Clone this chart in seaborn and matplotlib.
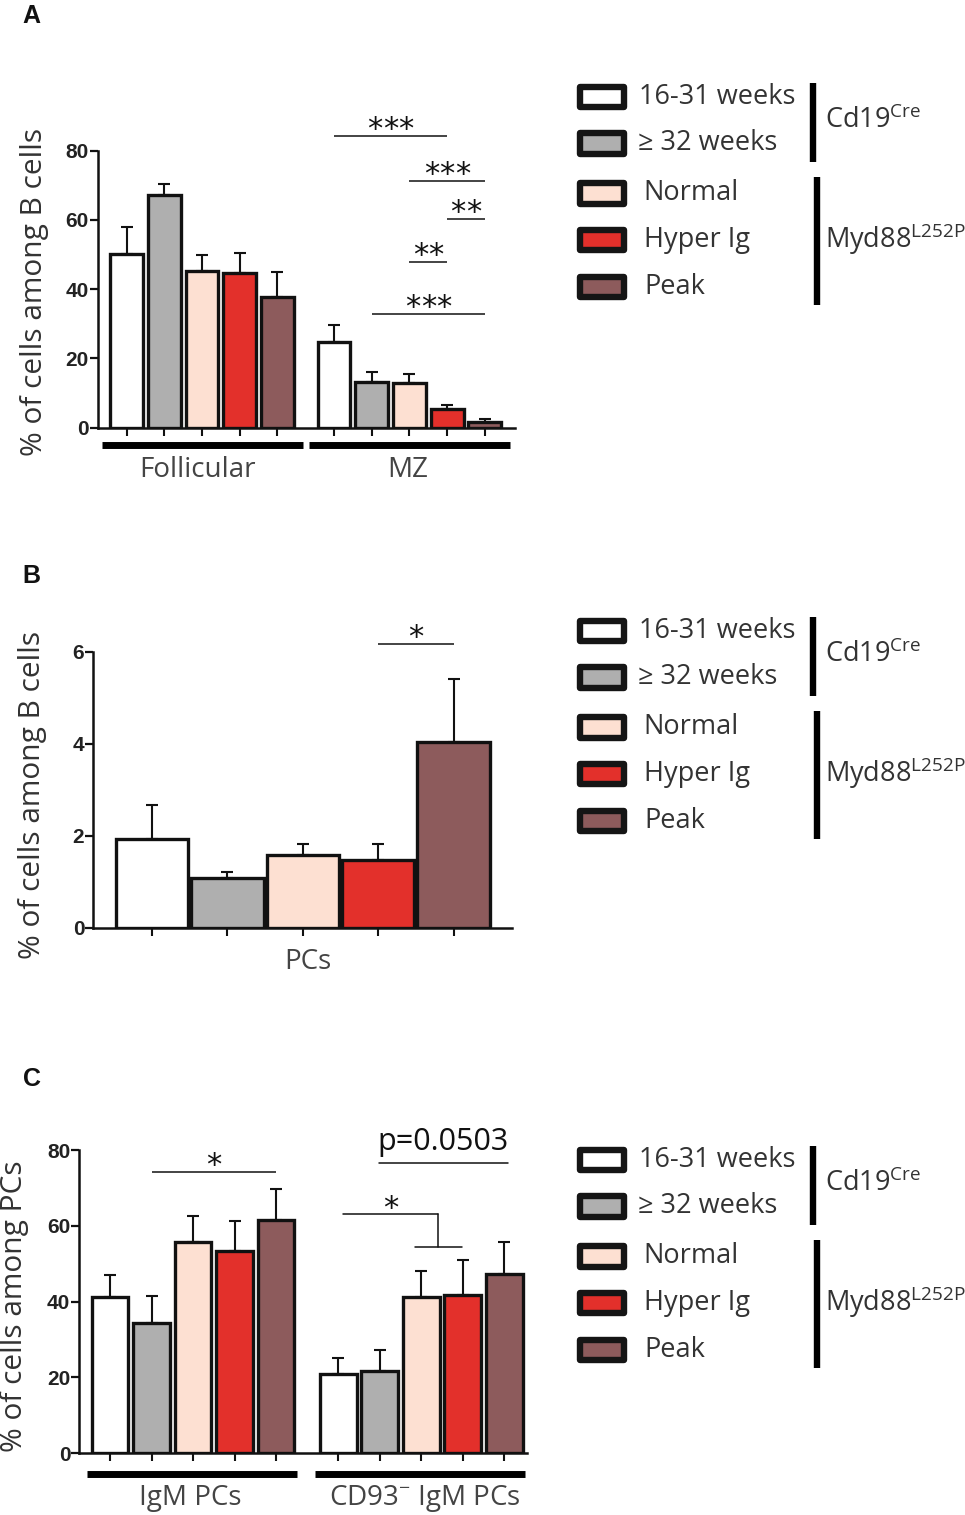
import numpy as np
import pandas as pd
import matplotlib
matplotlib.use('Agg')
import matplotlib.pyplot as plt
import seaborn as sns
from matplotlib.patches import Rectangle
from matplotlib.lines import Line2D

sns.set_theme(style='ticks')
plt.rcParams['font.family'] = ['Open Sans', 'DejaVu Sans']
plt.rcParams['mathtext.fontset'] = 'custom'
plt.rcParams['mathtext.rm'] = 'Open Sans'
plt.rcParams['mathtext.it'] = 'Open Sans:italic'
plt.rcParams['mathtext.bf'] = 'Open Sans:bold'

# ---------------- data ----------------
groups = ['16-31 weeks', '\u2265 32 weeks', 'Normal', 'Hyper Ig', 'Peak']
colors = ['#ffffff', '#afafaf', '#fde0d2', '#e3302b', '#8d5b5c']

a_categories = ['Follicular', 'MZ']
a_follicular_mean = [50.2, 67.2, 45.3, 44.6, 37.7]
a_follicular_sem = [7.7, 3.2, 4.7, 5.8, 7.2]
a_mz_mean = [24.7, 13.3, 12.8, 5.4, 1.6]
a_mz_sem = [5.0, 2.7, 2.7, 1.1, 0.8]

b_categories = ['PCs']
b_pcs_mean = [1.93, 1.09, 1.57, 1.47, 4.04]
b_pcs_sem = [0.74, 0.13, 0.24, 0.34, 1.36]

c_categories = ['IgM PCs', 'CD93\u207b IgM PCs']
c_igm_mean = [41.1, 34.5, 55.7, 53.4, 61.5]
c_igm_sem = [5.8, 7.0, 6.9, 8.0, 8.1]
c_cd93_mean = [20.8, 21.8, 41.2, 41.7, 47.4]
c_cd93_sem = [4.4, 5.4, 6.9, 9.3, 8.4]

a_ticks = [0, 20, 40, 60, 80]
b_ticks = [0, 2, 4, 6]
c_ticks = [0, 20, 40, 60, 80]

# significance: (text, category index, group from, group to, level)
a_sig = [('***', 1, 0, 3, 84.3), ('***', 1, 2, 4, 71.2), ('**', 1, 3, 4, 60.3),
         ('**', 1, 2, 3, 47.9), ('***', 1, 1, 4, 32.8)]
b_sig = [('*', 0, 3, 4, 6.17)]
c_sig = [('*', 0, 1, 4, 74.3)]
c_pvalue = 'p=0.0503'

W, H = 965, 1515
fig = plt.figure(figsize=(W / 100, H / 100), dpi=100)
fig.patch.set_facecolor('white')

STAR_FONT = ['DejaVu Sans']
STAR_SIZE = 22
STAR_STEP = 11.2  # points between consecutive asterisks


def fx(px):
    return px / W


def fy(py):
    return 1 - py / H


GAP = 0.5


def make_df(cats, means, sems):
    rows = []
    for ci, (cat, m, s) in enumerate(zip(cats, means, sems)):
        for gi, g in enumerate(groups):
            rows.append(dict(category=cat, group=g,
                             pos=ci * (len(groups) + GAP) + gi,
                             mean=m[gi], sem=s[gi]))
    return pd.DataFrame(rows)


def gpos(ci, gi):
    return ci * (len(groups) + GAP) + gi


def draw_panel(ax, df, width, ticks, xlim):
    sns.barplot(data=df, x='pos', y='mean', hue='group', hue_order=groups,
                palette=colors, dodge=False, native_scale=True, width=width,
                errorbar=None, saturation=1, edgecolor='#111111', linewidth=2.4,
                legend=False, ax=ax, zorder=2)
    ax.errorbar(df['pos'], df['mean'], yerr=[np.zeros(len(df)), df['sem']],
                fmt='none', ecolor='#111111', elinewidth=1.5, capsize=4.3,
                capthick=1.5, zorder=1)
    ax.set_xlim(*xlim)
    ax.set_ylim(ticks[0], ticks[-1])
    ax.set_xticks(df['pos'].tolist())
    ax.set_xticklabels([])
    ax.set_yticks(ticks)
    ax.set_yticklabels([str(t) for t in ticks], fontweight='bold',
                       family='Liberation Sans', fontsize=15, color='#222222')
    ax.set_xlabel('')
    ax.set_ylabel('')
    for side in ['top', 'right']:
        ax.spines[side].set_visible(False)
    for side in ['left', 'bottom']:
        ax.spines[side].set_linewidth(1.8)
        ax.spines[side].set_color('#111111')
    ax.tick_params(axis='y', direction='out', length=6, width=1.6, pad=0.5,
                   left=True, color='#111111')
    ax.tick_params(axis='x', direction='out', length=6, width=1.5,
                   bottom=True, color='#111111')
    ax.set_facecolor('white')


def star(ax, x, y, text):
    n = len(text)
    for k in range(n):
        off = (k - (n - 1) / 2) * STAR_STEP
        ax.annotate('*', xy=(x, y), xytext=(off, -1.5),
                    textcoords='offset points', ha='center', va='baseline',
                    fontsize=STAR_SIZE, family=STAR_FONT, color='#111111',
                    annotation_clip=False)


def sig(ax, spec):
    for text, ci, g0, g1, y in spec:
        x0, x1 = gpos(ci, g0), gpos(ci, g1)
        ax.plot([x0, x1], [y, y], color='#111111', lw=1.1, clip_on=False,
                solid_capstyle='butt')
        star(ax, (x0 + x1) / 2, y, text)


def group_bars(ax, cats, y_frac, ext_l, ext_r):
    for ci, cat in enumerate(cats):
        x0 = gpos(ci, 0) - ext_l
        x1 = gpos(ci, len(groups) - 1) + ext_r
        ax.plot([x0, x1], [y_frac, y_frac], color='black', lw=5,
                transform=ax.get_xaxis_transform(), clip_on=False,
                solid_capstyle='butt')


def legend(dy):
    rows_y = [96.7, 143.3, 193.3, 240.0, 287.0]
    text_x = [639, 637.7, 643.3, 644, 644]
    for i, (g, c) in enumerate(zip(groups, colors)):
        cy = rows_y[i] + dy
        r = Rectangle((fx(580.3), fy(cy + 10.2)), 43.4 / W, 20.4 / H,
                      transform=fig.transFigure, facecolor=c,
                      edgecolor='#151515', linewidth=4.6, joinstyle='round')
        fig.add_artist(r)
        fig.text(fx(text_x[i]), fy(cy), g, ha='left', va='center',
                 fontsize=19.5, color='#333333')
    fig.add_artist(Line2D([fx(813.3)] * 2, [fy(83.3 + dy), fy(161.7 + dy)],
                          color='black', lw=4.6, transform=fig.transFigure,
                          solid_capstyle='butt'))
    fig.add_artist(Line2D([fx(816.7)] * 2, [fy(177.3 + dy), fy(305 + dy)],
                          color='black', lw=4.6, transform=fig.transFigure,
                          solid_capstyle='butt'))
    fig.text(fx(825), fy(121 + dy), r'Cd19$^{\mathrm{Cre}}$', ha='left',
             va='center', fontsize=19.5, color='#333333')
    fig.text(fx(825), fy(239 + dy), r'Myd88$^{\mathrm{L252P}}$', ha='left',
             va='center', fontsize=19.5, color='#333333')


def panel_letter(py, s):
    fig.text(fx(31.5), fy(py), s, ha='center', va='center', fontsize=18,
             fontweight='bold', family='Liberation Sans', color='#111111')


def ylabel(px, py, s):
    fig.text(fx(px), fy(py), s, rotation=90, ha='center', va='center',
             fontsize=21.5, color='#333333')


def xlabel(px, py, s):
    fig.text(fx(px), fy(py), s, ha='center', va='center', fontsize=20,
             color='#444444')


# ---------------- Panel A ----------------
axA = fig.add_axes([fx(98), fy(427.7), (515 - 98) / W, 277 / H])
dfA = make_df(a_categories, [a_follicular_mean, a_mz_mean],
              [a_follicular_sem, a_mz_sem])
draw_panel(axA, dfA, 0.87, a_ticks, (-0.76, 10.3))
sig(axA, a_sig)
group_bars(axA, a_categories, -17.3 / 277, 0.66, 0.68)
xlabel(198, 470, a_categories[0])
xlabel(408, 470, a_categories[1])
ylabel(35, 292, '% of cells among B cells')
panel_letter(16, 'A')
legend(0)

# ---------------- Panel B ----------------
axB = fig.add_axes([fx(93.3), fy(927.7), (511.7 - 93.3) / W, 276 / H])
dfB = make_df(b_categories, [b_pcs_mean], [b_pcs_sem])
draw_panel(axB, dfB, 0.96, b_ticks, (-0.78, 4.77))
sig(axB, b_sig)
xlabel(308, 962, b_categories[0])
ylabel(33, 795, '% of cells among B cells')
panel_letter(576, 'B')
legend(534)

# ---------------- Panel C ----------------
axC = fig.add_axes([fx(79.3), fy(1453.3), (526.7 - 79.3) / W, 303.3 / H])
dfC = make_df(c_categories, [c_igm_mean, c_cd93_mean], [c_igm_sem, c_cd93_sem])
draw_panel(axC, dfC, 0.89, c_ticks, (-0.74, 10.04))
sig(axC, c_sig)
# p-value annotation
p_x0, p_x1 = gpos(1, 1) - 0.03, gpos(1, 4) + 0.08
axC.plot([p_x0, p_x1], [76.7, 76.7], color='#111111', lw=1.1, clip_on=False)
axC.annotate(c_pvalue, xy=((p_x0 + p_x1) / 2, 76.7), xytext=(0, 14.5),
             textcoords='offset points', ha='center', va='center',
             fontsize=22, color='#111111', annotation_clip=False)
# bracket
bx_mid = (gpos(1, 2) + gpos(1, 3)) / 2 - 0.09
axC.plot([gpos(1, 0) + 0.11, bx_mid], [63.0, 63.0], color='#111111', lw=1.1,
         clip_on=False)
axC.plot([bx_mid, bx_mid], [63.0, 54.5], color='#111111', lw=1.1, clip_on=False)
axC.plot([gpos(1, 2) - 0.15, gpos(1, 3) - 0.01], [54.5, 54.5], color='#111111',
         lw=1.1, clip_on=False)
star(axC, (gpos(1, 0) + 0.11 + bx_mid) / 2, 63.0, '*')
group_bars(axC, c_categories, -20.7 / 303.3, 0.56, 0.5)
xlabel(190, 1498, c_categories[0])
xlabel(425, 1498, 'CD93$^{-}$ IgM PCs')
ylabel(15, 1306, '% of cells among PCs')
panel_letter(1079, 'C')
legend(1063)

fig.savefig('out.png', dpi=100, facecolor='white')
